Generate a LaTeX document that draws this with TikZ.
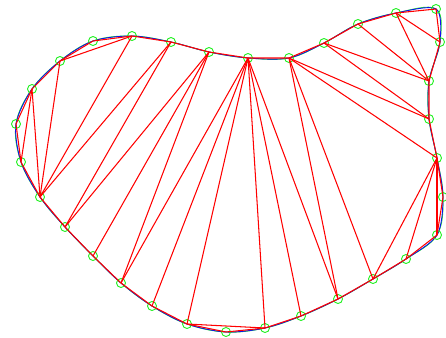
\documentclass[tikz,border=0pt]{standalone}
\usetikzlibrary{backgrounds}
\definecolor{trired}{HTML}{FF0000}
\definecolor{trigreen}{HTML}{20F020}
\definecolor{triblue}{HTML}{1010EE}
\tikzset{
  vtx/.style    ={circle, draw=trigreen, line width=0.9pt, fill=none,
                  minimum size=9pt, inner sep=0pt},
  rim/.style    ={draw=trired, line width=1.05pt},
  diag/.style   ={draw=trired, line width=1.05pt},
  bcurve/.style ={draw=triblue, line width=0.9pt},
  gcurve/.style ={draw=trigreen, line width=0.9pt}
}

\begin{document}
\begin{tikzpicture}[x=1pt,y=-1pt]
  \useasboundingbox (0,0) rectangle (446,337);
  % --- boundary vertices, clockwise from the upper left
  \node[vtx] (v1)  at (32,89)   {};
  \node[vtx] (v2)  at (60,61)   {};
  \node[vtx] (v3)  at (93,41)   {};
  \node[vtx] (v4)  at (132,36)  {};
  \node[vtx] (v5)  at (171,42)  {};
  \node[vtx] (v6)  at (209,52)  {};
  \node[vtx] (v7)  at (248,58)  {};
  \node[vtx] (v8)  at (289,58)  {};
  \node[vtx] (v9)  at (324,43)  {};
  \node[vtx] (v10) at (358,24)  {};
  \node[vtx] (v11) at (396,13)  {};
  \node[vtx] (v12) at (436,9)   {};
  \node[vtx] (v13) at (440,42)  {};
  \node[vtx] (v14) at (429,81)  {};
  \node[vtx] (v15) at (429,119) {};
  \node[vtx] (v16) at (437,158) {};
  \node[vtx] (v17) at (443,197) {};
  \node[vtx] (v18) at (437,235) {};
  \node[vtx] (v19) at (406,259) {};
  \node[vtx] (v20) at (373,279) {};
  \node[vtx] (v21) at (338,299) {};
  \node[vtx] (v22) at (301,316) {};
  \node[vtx] (v23) at (265,328) {};
  \node[vtx] (v24) at (226,332) {};
  \node[vtx] (v25) at (187,324) {};
  \node[vtx] (v26) at (152,306) {};
  \node[vtx] (v27) at (121,283) {};
  \node[vtx] (v28) at (93,256)  {};
  \node[vtx] (v29) at (65,227)  {};
  \node[vtx] (v30) at (40,197)  {};
  \node[vtx] (v31) at (21,162)  {};
  \node[vtx] (v32) at (16,124)  {};

  \begin{scope}[on background layer]
  % --- smooth outlines
  \draw[gcurve] plot[smooth cycle, tension=0.62] coordinates {(v1.center) (v2.center) (v3.center) (v4.center)
     (v5.center) (v6.center) (v7.center) (v8.center) (v9.center) (v10.center) (v11.center) (v12.center)
     (v13.center) (v14.center) (v15.center) (v16.center) (v17.center) (v18.center) (v19.center) (v20.center)
     (v21.center) (v22.center) (v23.center) (v24.center) (v25.center) (v26.center) (v27.center) (v28.center)
     (v29.center) (v30.center) (v31.center) (v32.center)};
  \draw[bcurve] plot[smooth cycle, tension=0.5] coordinates {(v1.center) (v2.center) (v3.center) (v4.center)
     (v5.center) (v6.center) (v7.center) (v8.center) (v9.center) (v10.center) (v11.center) (v12.center)
     (v13.center) (v14.center) (v15.center) (v16.center) (v17.center) (v18.center) (v19.center) (v20.center)
     (v21.center) (v22.center) (v23.center) (v24.center) (v25.center) (v26.center) (v27.center) (v28.center)
     (v29.center) (v30.center) (v31.center) (v32.center)};
  \end{scope}

  % --- polygon
  \draw[rim] (v1.center)--(v2.center)--(v3.center)--(v4.center)--(v5.center)--(v6.center)--(v7.center)
     --(v8.center)--(v9.center)--(v10.center)--(v11.center)--(v12.center)--(v13.center)--(v14.center)
     --(v15.center)--(v16.center)--(v17.center)--(v18.center)--(v19.center)--(v20.center)--(v21.center)
     --(v22.center)--(v23.center)--(v24.center)--(v25.center)--(v26.center)--(v27.center)--(v28.center)
     --(v29.center)--(v30.center)--(v31.center)--(v32.center)--cycle;

  % --- triangulation, upper right
  \draw[diag] (v11.center)--(v13.center); \draw[diag] (v11.center)--(v14.center);
  \draw[diag] (v10.center)--(v14.center); \draw[diag] (v9.center)--(v14.center);
  \draw[diag] (v9.center)--(v15.center);  \draw[diag] (v8.center)--(v15.center);
  \draw[diag] (v8.center)--(v16.center);  \draw[diag] (v8.center)--(v20.center);
  \draw[diag] (v8.center)--(v21.center);
  % --- fan round v16
  \draw[diag] (v16.center)--(v18.center); \draw[diag] (v16.center)--(v19.center);
  \draw[diag] (v16.center)--(v20.center);
  % --- fan round v7
  \draw[diag] (v7.center)--(v21.center);  \draw[diag] (v7.center)--(v22.center);
  \draw[diag] (v7.center)--(v23.center);  \draw[diag] (v7.center)--(v25.center);
  \draw[diag] (v7.center)--(v26.center);  \draw[diag] (v7.center)--(v27.center);
  \draw[diag] (v23.center)--(v25.center);
  % --- left part
  \draw[diag] (v6.center)--(v27.center);  \draw[diag] (v6.center)--(v28.center);
  \draw[diag] (v6.center)--(v29.center);  \draw[diag] (v5.center)--(v29.center);
  \draw[diag] (v5.center)--(v30.center);  \draw[diag] (v4.center)--(v30.center);
  \draw[diag] (v2.center)--(v4.center);   \draw[diag] (v2.center)--(v30.center);
  \draw[diag] (v1.center)--(v30.center);  \draw[diag] (v1.center)--(v31.center);
\end{tikzpicture}
\end{document}
